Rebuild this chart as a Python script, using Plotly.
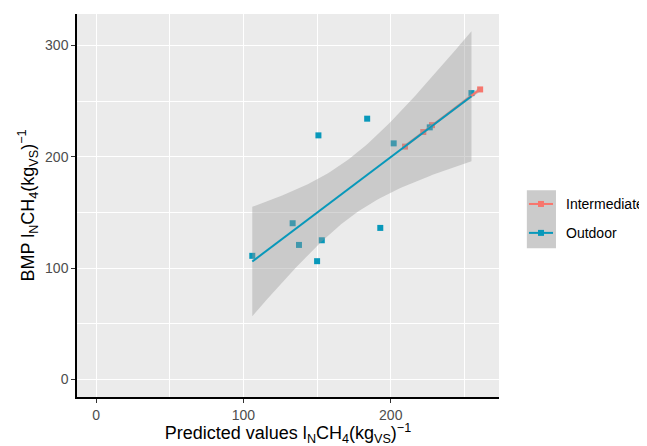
import numpy as np
import plotly.graph_objects as go

# ---- data ----
outdoor_pred = [106.0, 133.4, 137.7, 153.2, 150.0, 192.9, 150.9, 184.0, 202.0, 226.5, 254.8]
outdoor_bmp = [111.0, 140.3, 120.8, 125.0, 106.2, 136.1, 219.3, 234.3, 212.1, 226.5, 257.3]
inter_pred = [209.7, 222.1, 228.0, 260.7]
inter_bmp = [209.2, 222.3, 228.5, 260.6]

groups = ["Intermediate", "Outdoor"]
colors = {"Intermediate": "#F8766D", "Outdoor": "#0898BA"}
data = {"Intermediate": (inter_pred, inter_bmp), "Outdoor": (outdoor_pred, outdoor_bmp)}

x_ticks = [0, 100, 200]
y_ticks = [0, 100, 200, 300]

T975 = {1: 12.706, 2: 4.303, 3: 3.182, 4: 2.776, 5: 2.571, 6: 2.447, 7: 2.365, 8: 2.306, 9: 2.262, 10: 2.228}


def lm_fit(x, y, n_out=80):
    x = np.asarray(x, float)
    y = np.asarray(y, float)
    n = len(x)
    b1, b0 = np.polyfit(x, y, 1)
    resid = y - (b0 + b1 * x)
    s = np.sqrt(np.sum(resid ** 2) / (n - 2))
    xs = np.linspace(x.min(), x.max(), n_out)
    fit = b0 + b1 * xs
    se = s * np.sqrt(1.0 / n + (xs - x.mean()) ** 2 / np.sum((x - x.mean()) ** 2))
    t = T975.get(n - 2, 1.96)
    return xs, fit, fit - t * se, fit + t * se


fig = go.Figure()

# points
for g in groups:
    xv, yv = data[g]
    fig.add_trace(go.Scatter(x=xv, y=yv, mode="markers", showlegend=False, name=g,
                             marker=dict(symbol="square", size=6, color=colors[g]),
                             hoverinfo="x+y+name"))

# smooths (ribbon + line per group)
for g in groups:
    xv, yv = data[g]
    xs, fit, lo, hi = lm_fit(xv, yv)
    fig.add_trace(go.Scatter(x=np.concatenate([xs, xs[::-1]]), y=np.concatenate([hi, lo[::-1]]),
                             mode="lines", fill="toself", fillcolor="rgba(153,153,153,0.4)",
                             line=dict(width=0), showlegend=False, hoverinfo="skip"))
    fig.add_trace(go.Scatter(x=xs, y=fit, mode="lines", showlegend=False,
                             line=dict(color=colors[g], width=2), hoverinfo="skip"))

# ---- legend drawn in paper coordinates (plot area is 422 x 383 px) ----
PW, PH = 422.0, 383.0
fig.add_shape(type="rect", xref="paper", yref="paper",
              x0=1.066, x1=1.135, y0=0.3885, y1=0.540,
              fillcolor="#CBCBCB", line=dict(width=0), layer="below")
key_x0, key_x1 = 1.071, 1.128
key_xc = (key_x0 + key_x1) / 2
key_y = [0.504, 0.4285]
for g, ky in zip(groups, key_y):
    fig.add_shape(type="line", xref="paper", yref="paper",
                  x0=key_x0, x1=key_x1, y0=ky, y1=ky,
                  line=dict(color=colors[g], width=2), layer="above")
    fig.add_shape(type="rect", xref="paper", yref="paper",
                  x0=key_xc - 3 / PW, x1=key_xc + 3 / PW, y0=ky - 3 / PH, y1=ky + 3 / PH,
                  fillcolor=colors[g], line=dict(width=0), layer="above")
    fig.add_annotation(xref="paper", yref="paper", x=1.153, y=ky, text=g,
                       showarrow=False, xanchor="left", yanchor="middle",
                       font=dict(size=14, color="black"))

font_family = "Liberation Sans, Arial, Helvetica, sans-serif"

fig.update_layout(
    width=639, height=438,
    margin=dict(l=69, r=148, t=6, b=49, autoexpand=False),
    paper_bgcolor="white",
    plot_bgcolor="#EBEBEB",
    font=dict(family=font_family, size=14, color="#4D4D4D"),
    showlegend=False,
)

fig.update_xaxes(
    range=[-13, 273.5], tickvals=x_ticks, ticktext=[str(v) for v in x_ticks],
    showgrid=True, gridcolor="white", gridwidth=1.1,
    minor=dict(dtick=50, tick0=0, showgrid=True, gridcolor="white", gridwidth=0.5),
    zeroline=False, showline=True, linecolor="black", linewidth=1.5,
    ticks="outside", ticklen=4, tickcolor="#333333", tickwidth=1,
    tickfont=dict(size=14, color="#4D4D4D"), automargin=False,
    title=dict(text="Predicted values l<sub>N</sub>CH<sub>4</sub>(kg<sub>VS</sub>)<sup>−1</sup>",
               font=dict(size=18, color="black"), standoff=11),
)
fig.update_yaxes(
    range=[-15.9, 328.4], tickvals=y_ticks, ticktext=[str(v) for v in y_ticks],
    showgrid=True, gridcolor="white", gridwidth=1.1,
    minor=dict(dtick=50, tick0=0, showgrid=True, gridcolor="white", gridwidth=0.5),
    zeroline=False, showline=True, linecolor="black", linewidth=1.5,
    ticks="outside", ticklen=4, tickcolor="#333333", tickwidth=1,
    tickfont=dict(size=14, color="#4D4D4D"), automargin=False,
    title=dict(text="BMP l<sub>N</sub>CH<sub>4</sub>(kg<sub>VS</sub>)<sup>−1</sup>",
               font=dict(size=18, color="black"), standoff=6),
)

fig.write_html("out.html")
